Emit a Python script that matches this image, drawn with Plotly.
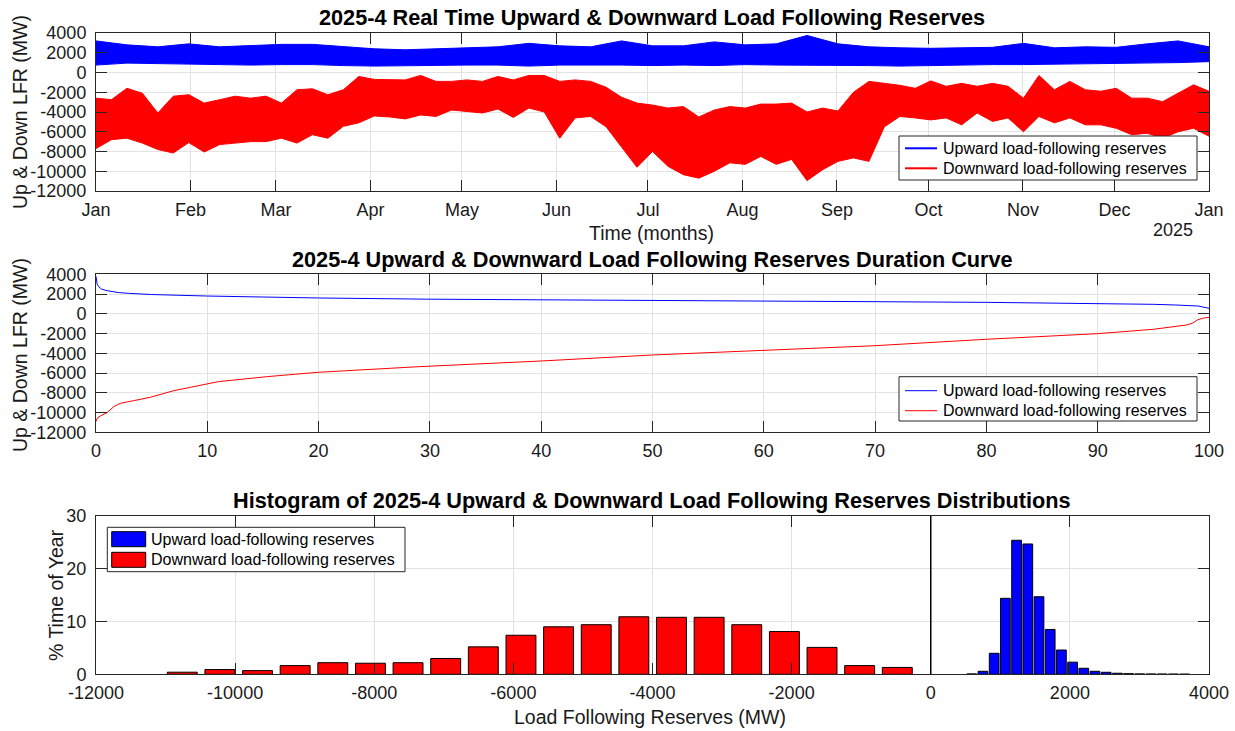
import numpy as np
import pandas as pd
import plotly.graph_objects as go

# ---------------- Data ----------------
# Panel 1: envelope of the hourly series, successive ~5-day windows through the year (MW)
DOWN_TOP = [-2600, -2750, -1600, -2100, -4100, -2400, -2250, -3100, -2750, -2400,
            -2600, -2400, -3100, -1750, -1650, -2250, -1750, -400, -700, -750,
            -750, -300, -900, -900, -750, -900, -400, -750, -300, -300,
            -900, -750, -900, -1500, -2500, -3100, -3300, -3600, -3450, -4500,
            -3800, -3450, -3600, -3200, -3200, -3100, -4000, -3600, -3900, -2000,
            -900, -1100, -1300, -1600, -850, -1400, -1100, -1400, -1100, -1400,
            -2600, -300, -1750, -900, -1750, -1900, -1600, -2600, -2600, -2950,
            -2100, -1250, -1900]
DOWN_BOTTOM = [-7700, -6800, -6650, -7150, -7800, -8150, -7100, -8050, -7300, -7150,
               -7000, -7000, -6650, -7150, -6300, -6650, -5450, -5100, -4400, -4500,
               -4700, -4300, -4450, -3800, -3950, -4100, -3700, -4550, -3600, -4000,
               -6650, -4600, -4450, -5500, -7500, -9600, -8000, -9500, -10350, -10700,
               -10000, -9150, -9300, -8500, -9300, -8800, -10950, -9850, -9000, -8650,
               -9000, -5500, -4450, -4600, -4800, -4600, -5300, -4100, -4950, -4600,
               -6000, -4450, -5100, -4600, -5300, -5300, -5650, -6300, -6150, -6650,
               -6000, -5650, -6450]
# successive ~10-day windows (MW)
UP_TOP = [3200, 2800, 2600, 2900, 2600, 2750, 2850, 2850, 2600, 2400,
          2300, 2400, 2450, 2600, 2950, 2700, 2600, 3200, 2700, 2700,
          3100, 2800, 2900, 3750, 2900, 2600, 2500, 2450, 2500, 2550,
          2950, 2500, 2600, 2550, 2900, 3200, 2600]
UP_BOTTOM = [750, 950, 900, 850, 800, 750, 800, 800, 700, 650,
             700, 700, 750, 750, 650, 750, 750, 750, 700, 750,
             700, 800, 750, 750, 700, 700, 650, 700, 750, 800,
             800, 850, 850, 900, 950, 1000, 1100]
MONTH_LABELS = ["Jan", "Feb", "Mar", "Apr", "May", "Jun", "Jul", "Aug",
                "Sep", "Oct", "Nov", "Dec", "Jan"]

# Panel 2: duration curves (percent of time exceeded, MW)
DUR_PCT_UP = [0, 0.1, 0.25, 0.5, 1, 2, 3, 5, 10, 20, 30, 40, 50, 60, 70, 80, 90, 95, 97, 99, 100]
DUR_UP = [3800, 3000, 2740, 2500, 2340, 2150, 2070, 1950, 1800, 1600, 1480, 1400,
          1340, 1280, 1225, 1160, 1060, 960, 890, 790, 560]
DUR_PCT_DOWN = [0, 0.1, 0.4, 1, 1.6, 2.2, 3.4, 4.9, 7, 10, 11, 15.4, 20, 29.1, 40,
                50, 60, 64.2, 70, 80, 90, 95, 97, 98, 98.5, 99, 99.5, 100]
DUR_DOWN = [-10920, -10580, -10340, -10000, -9400, -9060, -8790, -8450, -7780, -7100,
            -6870, -6360, -5920, -5350, -4780, -4170, -3710, -3490, -3230, -2580,
            -2010, -1570, -1300, -1130, -960, -600, -430, -360]

# Panel 3: histograms (bin centre MW, % time of year)
DOWN_CENTERS = [-10760, -10219, -9678, -9137, -8596, -8055, -7514, -6973, -6432, -5891,
                -5350, -4809, -4268, -3727, -3186, -2645, -2104, -1563, -1022, -481]
DOWN_PCT = [0.4, 0.9, 0.7, 1.65, 2.2, 2.1, 2.2, 3.0, 5.2, 7.4,
            9.0, 9.4, 10.9, 10.8, 10.8, 9.4, 8.1, 5.1, 1.65, 1.3]
UP_CENTERS = [590, 751, 912, 1073, 1234, 1395, 1556, 1717, 1878, 2039,
              2200, 2361, 2522, 2683, 2844, 3005, 3166, 3327, 3488, 3649]
UP_PCT = [0.08, 0.57, 3.98, 14.4, 25.4, 24.7, 14.7, 8.5, 4.6, 2.3,
          1.14, 0.57, 0.38, 0.2, 0.12, 0.08, 0.06, 0.05, 0.04, 0.03]

NAME_UP = "Upward load-following reserves"
NAME_DOWN = "Downward load-following reserves"
BLUE = "#0000ff"
RED = "#ff0000"

# ---------------- Geometry helpers ----------------
W, H = 1235, 731
L, R = 96, 1209


def px_x(px):
    return (px - L) / (R - L)


def px_y(py):
    return 1 - py / H


FONT = "Liberation Sans, Arial, Helvetica, sans-serif"
AX = "#262626"
GRID = "#e3e3e3"
TXT = "#1a1a1a"

start = pd.Timestamp("2025-01-01")
end = pd.Timestamp("2026-01-01")
t_down = start + pd.to_timedelta(np.linspace(0, 365, len(DOWN_TOP)), unit="D")
t_up = start + pd.to_timedelta(np.linspace(0, 365, len(UP_TOP)), unit="D")

fig = go.Figure()

# Panel 1 bands
fig.add_trace(go.Scatter(
    x=list(t_up) + list(t_up[::-1]), y=UP_TOP + UP_BOTTOM[::-1],
    mode="lines", fill="toself", fillcolor=BLUE, line=dict(color=BLUE, width=1),
    name=NAME_UP, showlegend=False, hoverinfo="skip", xaxis="x", yaxis="y"))
fig.add_trace(go.Scatter(
    x=list(t_down) + list(t_down[::-1]), y=DOWN_TOP + DOWN_BOTTOM[::-1],
    mode="lines", fill="toself", fillcolor=RED, line=dict(color=RED, width=1),
    name=NAME_DOWN, showlegend=False, hoverinfo="skip", xaxis="x", yaxis="y"))

# Panel 2 duration curves
fig.add_trace(go.Scatter(x=DUR_PCT_UP, y=DUR_UP, mode="lines", line=dict(color=BLUE, width=1),
                         name=NAME_UP, showlegend=False, xaxis="x2", yaxis="y2"))
fig.add_trace(go.Scatter(x=DUR_PCT_DOWN, y=DUR_DOWN, mode="lines", line=dict(color=RED, width=1),
                         name=NAME_DOWN, showlegend=False, xaxis="x2", yaxis="y2"))

# Panel 3 histograms
fig.add_trace(go.Bar(x=UP_CENTERS, y=UP_PCT, width=140,
                     marker=dict(color=BLUE, line=dict(color="black", width=1)),
                     name=NAME_UP, showlegend=False, xaxis="x3", yaxis="y3"))
fig.add_trace(go.Bar(x=DOWN_CENTERS, y=DOWN_PCT, width=430,
                     marker=dict(color=RED, line=dict(color="black", width=1)),
                     name=NAME_DOWN, showlegend=False, xaxis="x3", yaxis="y3"))

common = dict(showgrid=True, gridcolor=GRID, gridwidth=1, showline=True, linecolor=AX, linewidth=1,
              mirror="ticks", ticks="inside", ticklen=11, tickcolor=AX, tickwidth=1,
              zeroline=False, tickfont=dict(family=FONT, size=18, color=TXT), automargin=False)

yvals = list(range(-12000, 4001, 2000))
ytext = [str(v) for v in yvals]

dom1 = [px_y(191), px_y(33)]
dom2 = [px_y(432.3), px_y(274.3)]
dom3 = [px_y(674.3), px_y(516)]

month_ticks = [start + pd.DateOffset(months=i) for i in range(13)]
xvals3 = list(range(-12000, 4001, 2000))

shapes = [dict(type="line", xref="x3", yref="y3 domain", x0=0, x1=0, y0=0, y1=1,
               line=dict(color="black", width=1.5))]
ann = []


def legend_box(x0, x1, y0, y1):
    shapes.append(dict(type="rect", xref="paper", yref="paper", x0=px_x(x0), x1=px_x(x1),
                       y0=px_y(y1), y1=px_y(y0), line=dict(color=AX, width=1),
                       fillcolor="white", layer="above"))


def legend_text(txt, x, y):
    ann.append(dict(text=txt, x=px_x(x), y=px_y(y), xref="paper", yref="paper",
                    xanchor="left", yanchor="middle", showarrow=False,
                    font=dict(family=FONT, size=16, color="black")))


def legend_line(color, y, width):
    shapes.append(dict(type="line", xref="paper", yref="paper", x0=px_x(905), x1=px_x(937),
                       y0=px_y(y), y1=px_y(y), line=dict(color=color, width=width), layer="above"))


# Legend panel 1
legend_box(899, 1197, 136, 180)
legend_line(BLUE, 148.3, 2)
legend_line(RED, 168.3, 2)
legend_text(NAME_UP, 941, 148.3)
legend_text(NAME_DOWN, 941, 168.3)
# Legend panel 2
legend_box(899, 1197, 376.7, 421)
legend_line(BLUE, 390.7, 1)
legend_line(RED, 410.7, 1)
legend_text(NAME_UP, 941, 390.7)
legend_text(NAME_DOWN, 941, 410.7)
# Legend panel 3
legend_box(107.3, 405, 527.3, 571.7)
for color, y0, y1 in [(BLUE, 531.7, 546.7), (RED, 552.3, 567.3)]:
    shapes.append(dict(type="rect", xref="paper", yref="paper", x0=px_x(111.7), x1=px_x(145.7),
                       y0=px_y(y1), y1=px_y(y0), line=dict(color="black", width=1),
                       fillcolor=color, layer="above"))
legend_text(NAME_UP, 148.5, 539.2)
legend_text(NAME_DOWN, 148.5, 559.8)

fig.update_layout(
    width=W, height=H, autosize=False,
    margin=dict(l=L, r=W - R, t=0, b=0),
    paper_bgcolor="white", plot_bgcolor="white",
    font=dict(family=FONT, color="black"),
    barmode="overlay", showlegend=False,
    xaxis=dict(domain=[0, 1], anchor="y", type="date", range=[start, end],
               tickvals=month_ticks, ticktext=MONTH_LABELS, ticklabelstandoff=2, **common),
    yaxis=dict(domain=dom1, anchor="x", range=[-12000, 4000], tickvals=yvals, ticktext=ytext,
               ticklabelstandoff=5, **common),
    xaxis2=dict(domain=[0, 1], anchor="y2", range=[0, 100], tickvals=list(range(0, 101, 10)),
                ticklabelstandoff=2, **common),
    yaxis2=dict(domain=dom2, anchor="x2", range=[-12000, 4000], tickvals=yvals, ticktext=ytext,
                ticklabelstandoff=5, **common),
    xaxis3=dict(domain=[0, 1], anchor="y3", range=[-12000, 4000], tickvals=xvals3,
                ticktext=[str(v) for v in xvals3], ticklabelstandoff=2, **common),
    yaxis3=dict(domain=dom3, anchor="x3", range=[0, 30], tickvals=[0, 10, 20, 30],
                ticklabelstandoff=5, **common),
)

title_font = dict(family=FONT, size=21.7, color="black")
for txt, py in [("2025-4 Real Time Upward & Downward Load Following Reserves", 17),
                ("2025-4 Upward & Downward Load Following Reserves Duration Curve", 259),
                ("Histogram of 2025-4 Upward & Downward Load Following Reserves Distributions", 500)]:
    ann.append(dict(text="<b>" + txt + "</b>", x=px_x(652), y=px_y(py), xref="paper", yref="paper",
                    xanchor="center", yanchor="middle", showarrow=False, font=title_font))
label_font = dict(family=FONT, size=19.5, color=TXT)
ann.append(dict(text="Time (months)", x=px_x(651), y=px_y(233), xref="paper", yref="paper",
                xanchor="center", yanchor="middle", showarrow=False, font=label_font))
ann.append(dict(text="2025", x=px_x(1173), y=px_y(230), xref="paper", yref="paper",
                xanchor="center", yanchor="middle", showarrow=False,
                font=dict(family=FONT, size=18, color=TXT)))
ann.append(dict(text="Load Following Reserves (MW)", x=px_x(650), y=px_y(717), xref="paper", yref="paper",
                xanchor="center", yanchor="middle", showarrow=False, font=label_font))
for txt, px, py in [("Up & Down LFR (MW)", 20, 112), ("Up & Down LFR (MW)", 20, 355),
                    ("% Time of Year", 56, 595)]:
    ann.append(dict(text=txt, x=px_x(px), y=px_y(py), xref="paper", yref="paper", textangle=-90,
                    xanchor="center", yanchor="middle", showarrow=False, font=label_font))
fig.update_layout(annotations=ann, shapes=shapes)

fig.write_html("out.html", config={"displayModeBar": False},
               post_script="document.body.style.margin='0px';")
